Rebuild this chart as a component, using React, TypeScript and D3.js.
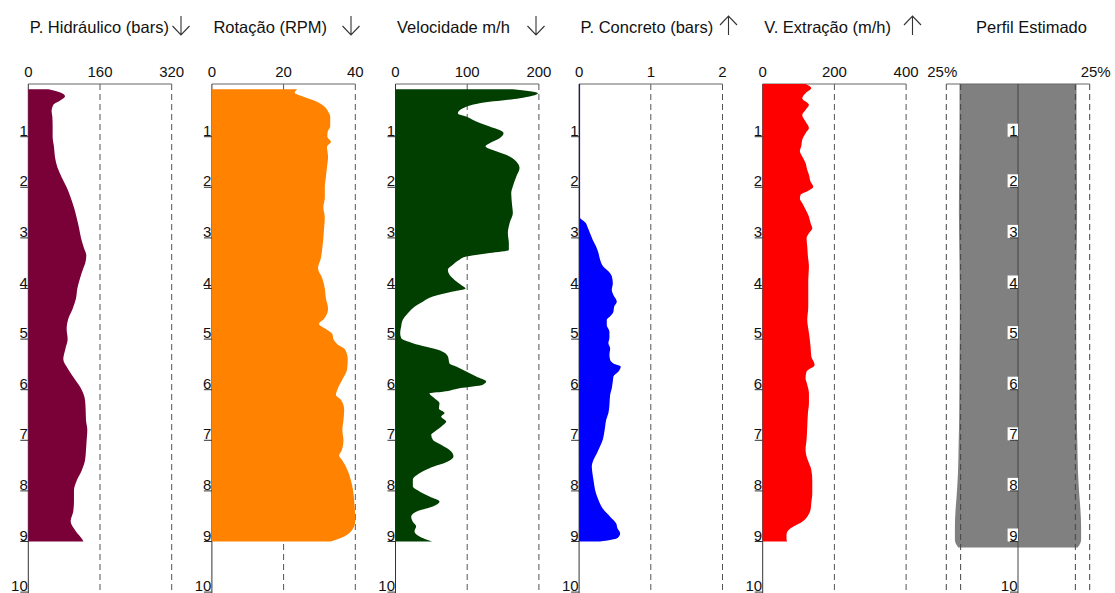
import React from "react";
import * as d3 from "d3";

// Depth (m) / value pairs for each log track
const hidraulico: [number, number][] = [
  [0.06, 45], [0.12, 70], [0.2, 82], [0.28, 72], [0.37, 56], [0.5, 52], [0.6, 53.6], [0.8, 54.3],
  [1.0, 54.3], [1.2, 57.3], [1.4, 59.5], [1.6, 64.7], [1.8, 74.4], [2.0, 85.6], [2.2, 94.5],
  [2.4, 101.9], [2.6, 107.9], [2.8, 113.1], [3.0, 117.6], [3.2, 124.2], [3.35, 129.5], [3.5, 127],
  [3.6, 122.8], [3.8, 115.3], [4.0, 109.4], [4.2, 106.4], [4.4, 99], [4.6, 89.3], [4.8, 85.6],
  [5.0, 87.8], [5.2, 82.6], [5.4, 78.1], [5.6, 89.3], [5.8, 104.2], [6.0, 119], [6.2, 126.5],
  [6.4, 128], [6.6, 128.7], [6.8, 131.7], [7.0, 130.2], [7.2, 128.7], [7.4, 126.5], [7.6, 119],
  [7.8, 107.9], [8.0, 101.9], [8.2, 101.9], [8.4, 100.4], [8.6, 94.5], [8.8, 106.4], [8.95, 120],
  [9.0, 123],
];

const rotacao: [number, number][] = [
  [0.06, 23.8], [0.13, 23.1], [0.2, 25.2], [0.3, 29.0], [0.4, 31.3], [0.5, 32.4], [0.6, 33.0],
  [0.8, 33.0], [0.9, 32.3], [1.0, 32.2], [1.1, 33.2], [1.2, 32.1], [1.4, 32.4], [1.6, 32.1],
  [1.8, 31.8], [2.0, 31.5], [2.2, 31.5], [2.4, 31.1], [2.6, 31.5], [2.8, 31.3], [3.0, 31.1],
  [3.2, 30.8], [3.4, 30.4], [3.6, 29.6], [3.8, 30.8], [4.0, 31.5], [4.2, 31.8], [4.4, 32.4],
  [4.6, 31.3], [4.7, 29.9], [4.8, 31.8], [4.9, 33.6], [5.0, 33.9], [5.1, 35.0], [5.2, 37.1],
  [5.4, 37.9], [5.6, 37.7], [5.8, 36.4], [6.0, 35.0], [6.1, 34.6], [6.2, 36.0], [6.4, 36.9],
  [6.6, 36.7], [6.8, 36.4], [7.0, 36.7], [7.2, 36.2], [7.3, 35.5], [7.4, 36.4], [7.6, 37.9],
  [7.8, 38.8], [8.0, 39.4], [8.2, 39.7], [8.4, 39.9], [8.6, 40.0], [8.7, 39.7], [8.8, 38.8],
  [8.9, 36.9], [9.0, 33.2],
];

const velocidade: [number, number][] = [
  [0.06, 163.7], [0.14, 198.6], [0.24, 173], [0.34, 117.2], [0.44, 94], [0.54, 87], [0.6, 98.6],
  [0.7, 112.6], [0.8, 131.2], [0.87, 145.1], [0.93, 150.7], [1.03, 145.1], [1.13, 131.2],
  [1.19, 125.6], [1.29, 140.5], [1.39, 159.1], [1.49, 168.4], [1.62, 173], [1.79, 168.4],
  [1.98, 163.7], [2.12, 161.4], [2.38, 162.8], [2.51, 163.7], [2.71, 159.1], [2.91, 156.7],
  [3.11, 158.1], [3.24, 158.1], [3.3, 131.2], [3.37, 98.6], [3.43, 89.3], [3.53, 80], [3.63, 73],
  [3.73, 75.3], [3.83, 82.3], [3.93, 91.6], [4.0, 97.7], [4.06, 80], [4.16, 52.1], [4.26, 38.1],
  [4.36, 26.5], [4.49, 17.2], [4.62, 10.2], [4.75, 7.9], [4.88, 6.5], [4.98, 7.9], [5.08, 24.2],
  [5.15, 42.8], [5.21, 59.1], [5.34, 73], [5.48, 75.3], [5.54, 84.6], [5.64, 98.6], [5.74, 112.6],
  [5.84, 126.5], [5.9, 121.9], [5.97, 89.3], [6.04, 66], [6.07, 47.4], [6.17, 54.4], [6.27, 61.4],
  [6.37, 60.5], [6.46, 68.4], [6.53, 63.7], [6.63, 70.7], [6.73, 63.7], [6.83, 54.4], [6.89, 49.8],
  [6.99, 52.1], [7.09, 63.7], [7.22, 77.7], [7.32, 80.9], [7.42, 73], [7.55, 47.4], [7.65, 33.5],
  [7.78, 24.2], [7.91, 24.2], [8.01, 33.5], [8.11, 47.4], [8.21, 61.4], [8.31, 52.1], [8.41, 28.8],
  [8.51, 21.9], [8.61, 24.2], [8.7, 28.8], [8.8, 26.5], [8.9, 33.5], [8.97, 45.1], [9.0, 51.2],
];

const concreto: [number, number][] = [
  [-0.04, 0.014], [2.6, 0.014], [2.65, 0.05], [2.7, 0.09], [2.78, 0.116], [2.91, 0.153],
  [3.04, 0.191], [3.17, 0.237], [3.3, 0.27], [3.43, 0.293], [3.57, 0.34], [3.66, 0.409],
  [3.76, 0.456], [3.9, 0.47], [4.03, 0.456], [4.13, 0.479], [4.26, 0.526], [4.36, 0.488],
  [4.46, 0.479], [4.55, 0.433], [4.62, 0.386], [4.72, 0.386], [4.85, 0.423], [4.98, 0.423],
  [5.08, 0.409], [5.18, 0.433], [5.31, 0.423], [5.41, 0.433], [5.48, 0.479], [5.54, 0.581],
  [5.64, 0.549], [5.74, 0.479], [5.84, 0.47], [5.97, 0.456], [6.1, 0.433], [6.3, 0.423],
  [6.46, 0.409], [6.6, 0.377], [6.73, 0.363], [6.86, 0.349], [6.99, 0.33], [7.12, 0.293],
  [7.26, 0.247], [7.39, 0.2], [7.52, 0.177], [7.65, 0.186], [7.78, 0.2], [7.98, 0.223],
  [8.18, 0.27], [8.37, 0.34], [8.51, 0.433], [8.64, 0.516], [8.74, 0.535], [8.84, 0.572],
  [8.93, 0.535], [9.0, 0.293],
];

const extracao: [number, number][] = [
  [-0.04, 119.6], [0.04, 135.5], [0.14, 119.6], [0.24, 110.3], [0.37, 129], [0.47, 119.6],
  [0.57, 110.3], [0.7, 119.6], [0.83, 129], [0.93, 119.6], [1.06, 110.3], [1.19, 107.5],
  [1.29, 103.7], [1.39, 110.3], [1.52, 119.6], [1.66, 124.3], [1.75, 129], [1.89, 133.6],
  [1.99, 141.1], [2.08, 124.3], [2.15, 105.6], [2.22, 103.7], [2.31, 110.3], [2.44, 119.6],
  [2.58, 129], [2.71, 133.6], [2.81, 138.3], [2.91, 129], [3.01, 122.4], [3.17, 124.3],
  [3.37, 126.2], [3.57, 129], [3.83, 127.1], [4.09, 127.1], [4.36, 127.1], [4.62, 124.3],
  [4.88, 129], [5.15, 133.6], [5.34, 135.5], [5.51, 144.9], [5.64, 122.4], [5.77, 119.6],
  [5.9, 124.3], [6.07, 129], [6.27, 129], [6.46, 126.2], [6.73, 124.3], [6.99, 122.4],
  [7.19, 119.6], [7.32, 122.4], [7.45, 129], [7.58, 135.5], [7.78, 138.3], [8.05, 138.3],
  [8.24, 135.5], [8.37, 133.6], [8.51, 124.3], [8.61, 110.3], [8.7, 86.9], [8.77, 72.9],
  [8.87, 66.4], [8.95, 66.4], [9.0, 68.2],
];

// Estimated radius relative to nominal (1 = nominal, 1.25 = +25%)
const perfil: [number, number][] = [
  [-0.04, 1.02], [0.5, 1.02], [1.5, 1.025], [2.5, 1.03], [3.5, 1.02], [4.5, 1.015], [5.5, 1.02],
  [6.5, 1.025], [7.1, 1.035], [7.6, 1.045], [8.1, 1.07], [8.4, 1.09], [8.7, 1.1], [8.97, 1.1],
  [9.07, 1.07], [9.12, 1.04],
];

const depthTicks = [1, 2, 3, 4, 5, 6, 7, 8, 9, 10];
const hidraulicoTicks = [0, 160, 320];
const rotacaoTicks = [0, 20, 40];
const velocidadeTicks = [0, 100, 200];
const concretoTicks = [0, 1, 2];
const extracaoTicks = [0, 200, 400];
const perfilNominal = [-1, 1];
const perfilLimits = [-1.25, 1.25];
const perfilLabels = ["25%", "25%"];

const W = 1115;
const H = 593;
const TOP = 84;
const PANEL_LEFT = 28.3;
const PANEL_STEP = 183.6;
const PANEL_W = 143.4;
const FONT = "'Liberation Sans', Arial, Helvetica, sans-serif";

const y = d3.scaleLinear().domain([0, 10]).range([86.1, 592.1]);

type Track = {
  title: string;
  arrow: "down" | "up";
  arrowDx: number;
  ticks: number[];
  data: [number, number][];
  color: string;
};

const tracks: Track[] = [
  { title: "P. Hidráulico (bars)", arrow: "down", arrowDx: 152.7, ticks: hidraulicoTicks, data: hidraulico, color: "#7a0038" },
  { title: "Rotação (RPM)", arrow: "down", arrowDx: 139.1, ticks: rotacaoTicks, data: rotacao, color: "#ff8300" },
  { title: "Velocidade m/h", arrow: "down", arrowDx: 140.5, ticks: velocidadeTicks, data: velocidade, color: "#003f00" },
  { title: "P. Concreto (bars)", arrow: "up", arrowDx: 149.4, ticks: concretoTicks, data: concreto, color: "#0000ff" },
  { title: "V. Extração (m/h)", arrow: "up", arrowDx: 149.8, ticks: extracaoTicks, data: extracao, color: "#ff0000" },
];

function Arrow({ cx, dir }: { cx: number; dir: "down" | "up" }) {
  const top = 16;
  const bot = 35;
  const d =
    dir === "down"
      ? `M${cx},${top}V${bot}M${cx - 8.5},${bot - 9}L${cx},${bot}L${cx + 8.5},${bot - 9}`
      : `M${cx},${bot}V${top}M${cx - 8.5},${top + 9}L${cx},${top}L${cx + 8.5},${top + 9}`;
  return <path d={d} fill="none" stroke="#333" strokeWidth={1.1} />;
}

function DepthTicks({ ax, boxed }: { ax: number; boxed?: boolean }) {
  return (
    <g fontFamily={FONT} fontSize={15} fill="#111">
      {depthTicks.map((t) => {
        const ty = y(t);
        const label = String(t);
        const tw = label.length * 8.4;
        return (
          <g key={t}>
            {boxed && t < 10 && (
              <rect x={ax - tw - 2} y={ty - 13} width={tw + 2} height={13} fill="#fff" />
            )}
            <line x1={ax - 8} x2={ax} y1={ty} y2={ty} stroke="#333" strokeWidth={1} />
            <text x={ax - 0.5} y={ty - 1} textAnchor="end">
              {label}
            </text>
          </g>
        );
      })}
    </g>
  );
}

function TrackPanel({ track, i }: { track: Track; i: number }) {
  const x0 = PANEL_LEFT + i * PANEL_STEP;
  const x1 = x0 + PANEL_W;
  const domain = [track.ticks[0], track.ticks[track.ticks.length - 1]];
  const x = d3.scaleLinear().domain(domain).range([x0, x1]);
  const area = d3
    .area<[number, number]>()
    .curve(d3.curveMonotoneY)
    .y((d) => y(d[0]))
    .x0(x(0))
    .x1((d) => x(d[1]));
  return (
    <g>
      <text x={x0 + 1.5} y={33} fontFamily={FONT} fontSize={16.5} fill="#111">
        {track.title}
      </text>
      <Arrow cx={x0 + track.arrowDx} dir={track.arrow} />
      {track.ticks.slice(1).map((t) => (
        <line key={t} x1={x(t)} x2={x(t)} y1={TOP} y2={H} stroke="#555" strokeWidth={1} strokeDasharray="6,4" />
      ))}
      <line x1={x0} x2={x1} y1={TOP} y2={TOP} stroke="#666" strokeWidth={1} />
      <line x1={x0} x2={x0} y1={TOP} y2={H} stroke="#333" strokeWidth={1} />
      <path d={area(track.data) || ""} fill={track.color} />
      {track.ticks.map((t) => (
        <text key={t} x={x(t)} y={77} textAnchor="middle" fontFamily={FONT} fontSize={15} fill="#111">
          {t}
        </text>
      ))}
      <DepthTicks ax={x0} />
    </g>
  );
}

function PerfilPanel({ i }: { i: number }) {
  const x0 = PANEL_LEFT + i * PANEL_STEP;
  const x1 = x0 + PANEL_W;
  const x = d3.scaleLinear().domain(perfilLimits).range([x0, x1]);
  const area = d3
    .area<[number, number]>()
    .curve(d3.curveMonotoneY)
    .y((d) => y(d[0]))
    .x0((d) => x(-d[1]))
    .x1((d) => x(d[1]));
  const cx = x(0);
  return (
    <g>
      <text x={976} y={33} fontFamily={FONT} fontSize={16.5} fill="#111">
        Perfil Estimado
      </text>
      <path d={area(perfil) || ""} fill="#808080" />
      {[...perfilLimits, ...perfilNominal].map((t) => (
        <line key={t} x1={x(t)} x2={x(t)} y1={TOP} y2={H} stroke="#444" strokeWidth={1} strokeDasharray="6,4" />
      ))}
      <line x1={x0} x2={x1} y1={TOP} y2={TOP} stroke="#666" strokeWidth={1} />
      <line x1={cx} x2={cx} y1={TOP} y2={H} stroke="#444" strokeWidth={1} />
      <text x={x0 - 4} y={77} textAnchor="middle" fontFamily={FONT} fontSize={15} fill="#111">
        {perfilLabels[0]}
      </text>
      <text x={x1 + 6} y={77} textAnchor="middle" fontFamily={FONT} fontSize={15} fill="#111">
        {perfilLabels[1]}
      </text>
      <DepthTicks ax={cx} boxed />
    </g>
  );
}

export default function App() {
  return (
    <svg
      width={W}
      height={H}
      viewBox={`0 0 ${W} ${H}`}
      style={{ position: "absolute", left: 0, top: 0, background: "#fff", display: "block" }}
    >
      <rect width={W} height={H} fill="#fff" />
      {tracks.map((t, i) => (
        <TrackPanel key={t.title} track={t} i={i} />
      ))}
      <PerfilPanel i={5} />
    </svg>
  );
}
